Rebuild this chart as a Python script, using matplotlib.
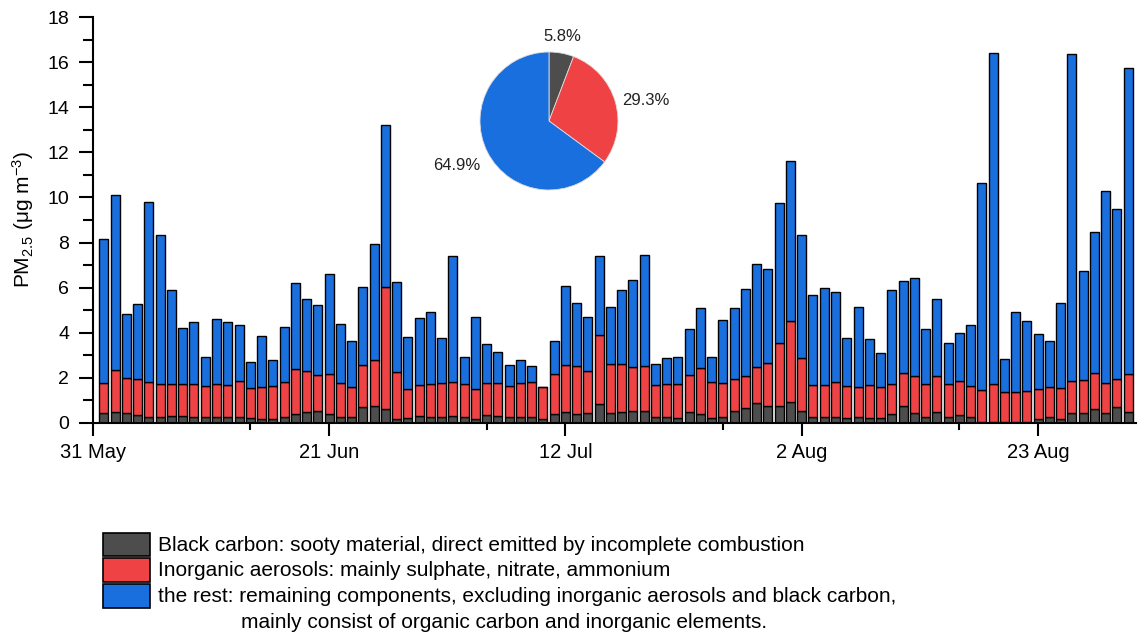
import matplotlib
matplotlib.use("Agg")
import matplotlib.pyplot as plt
import matplotlib.dates as mdates
from matplotlib.patches import Rectangle
from matplotlib.ticker import MultipleLocator
import numpy as np
import pandas as pd

plt.rcParams['font.family'] = ['Liberation Sans', 'DejaVu Sans']
plt.rcParams['mathtext.default'] = 'regular'

# daily PM2.5 composition, 1 Jun - 31 Aug (ug m-3)
days = pd.date_range('2018-06-01', '2018-08-31', freq='D')

black_carbon = [
    0.41, 0.46, 0.44, 0.34, 0.25, 0.27, 0.28, 0.28, 0.27, 0.24,
    0.25, 0.27, 0.24, 0.19, 0.18, 0.18, 0.27, 0.37, 0.46, 0.52,
    0.38, 0.27, 0.27, 0.68, 0.75, 0.59, 0.15, 0.22, 0.30, 0.27,
    0.25, 0.30, 0.27, 0.16, 0.34, 0.28, 0.24, 0.24, 0.24, 0.18,
    0.38, 0.49, 0.37, 0.44, 0.83, 0.44, 0.47, 0.52, 0.53, 0.25,
    0.25, 0.19, 0.47, 0.37, 0.22, 0.27, 0.53, 0.64, 0.86, 0.73,
    0.73, 0.90, 0.52, 0.24, 0.25, 0.27, 0.22, 0.24, 0.22, 0.19,
    0.38, 0.73, 0.43, 0.24, 0.49, 0.27, 0.34, 0.27, 0.04, 0.04,
    0.02, 0.02, 0.02, 0.16, 0.24, 0.16, 0.44, 0.41, 0.61, 0.41,
    0.68, 0.46]

inorganic = [
    1.37, 1.88, 1.53, 1.58, 1.56, 1.43, 1.45, 1.45, 1.46, 1.39,
    1.48, 1.40, 1.61, 1.36, 1.42, 1.43, 1.55, 2.03, 1.85, 1.61,
    1.80, 1.51, 1.33, 1.90, 2.03, 5.45, 2.11, 1.26, 1.39, 1.45,
    1.53, 1.51, 1.46, 1.35, 1.44, 1.50, 1.40, 1.51, 1.58, 1.39,
    1.78, 2.09, 2.16, 1.85, 3.06, 2.17, 2.14, 1.97, 2.00, 1.42,
    1.48, 1.54, 1.66, 2.04, 1.57, 1.49, 1.42, 1.43, 1.63, 1.90,
    2.81, 3.60, 2.35, 1.43, 1.42, 1.54, 1.39, 1.33, 1.44, 1.39,
    1.35, 1.46, 1.64, 1.46, 1.57, 1.43, 1.51, 1.36, 1.41, 1.66,
    1.34, 1.36, 1.37, 1.35, 1.33, 1.36, 1.40, 1.47, 1.58, 1.37,
    1.26, 1.72]

rest = [
    6.38, 7.77, 2.86, 3.35, 7.97, 6.63, 4.18, 2.47, 2.74, 1.29,
    2.86, 2.79, 2.49, 1.16, 2.25, 1.17, 2.43, 3.79, 3.20, 3.09,
    4.41, 2.60, 2.03, 3.43, 5.17, 7.16, 3.97, 2.31, 2.94, 3.18,
    1.96, 5.61, 1.17, 3.17, 1.71, 1.36, 0.94, 1.03, 0.68, 0.00,
    1.47, 3.49, 2.77, 2.42, 3.53, 2.51, 3.28, 3.85, 4.90, 0.94,
    1.16, 1.19, 2.03, 2.67, 1.14, 2.80, 3.14, 3.88, 4.57, 4.21,
    6.23, 7.12, 5.46, 4.01, 4.31, 4.01, 2.15, 3.55, 2.07, 1.53,
    4.15, 4.10, 4.35, 2.46, 3.43, 1.85, 2.13, 2.71, 9.21, 14.72,
    1.48, 3.52, 3.14, 2.43, 2.04, 3.81, 14.52, 4.84, 6.26, 8.49,
    7.55, 13.58]

# overall share of each component (%)
shares = [5.8, 29.3, 64.9]

labels = [
    'Black carbon: sooty material, direct emitted by incomplete combustion',
    'Inorganic aerosols: mainly sulphate, nitrate, ammonium',
    'the rest: remaining components, excluding inorganic aerosols and black carbon,',
]
extra_line = 'mainly consist of organic carbon and inorganic elements.'

major_days = ['2018-05-31', '2018-06-21', '2018-07-12', '2018-08-02', '2018-08-23']
minor_days = ['2018-06-14', '2018-07-05', '2018-07-26', '2018-08-16']

c_bc = '#4d4d4d'
c_ia = '#ef4244'
c_rest = '#1a6fdf'

W, H = 1138, 635
fig = plt.figure(figsize=(W / 100, H / 100), dpi=100)
ax = fig.add_axes([92.7 / W, 1 - 422.7 / H, (1136 - 92.7) / W, (422.7 - 17.3) / H])

bc = np.array(black_carbon)
ia = np.array(inorganic)
rs = np.array(rest)
x = mdates.date2num(days)

kw = dict(width=0.8, edgecolor='black', linewidth=1.0)
ax.bar(x, bc, color=c_bc, **kw)
ax.bar(x, ia, bottom=bc, color=c_ia, **kw)
ax.bar(x, rs, bottom=bc + ia, color=c_rest, **kw)

x0 = mdates.date2num(pd.Timestamp('2018-05-31'))
ax.set_xlim(x0, x0 + 92.7)
ax.set_ylim(0, 18)

ax.set_xticks(mdates.date2num(pd.to_datetime(major_days)))
ax.set_xticklabels([pd.Timestamp(d).strftime('%d %b').lstrip('0') for d in major_days])
ax.set_xticks(mdates.date2num(pd.to_datetime(minor_days)), minor=True)
ax.yaxis.set_major_locator(MultipleLocator(2))
ax.yaxis.set_minor_locator(MultipleLocator(1))

for s in ['top', 'right']:
    ax.spines[s].set_visible(False)
for s in ['left', 'bottom']:
    ax.spines[s].set_linewidth(1.5)

ax.tick_params(axis='x', which='major', length=9.5, width=1.5, labelsize=14.5, pad=5)
ax.tick_params(axis='x', which='minor', length=5, width=1.5)
ax.tick_params(axis='y', which='major', length=10, width=1.5, labelsize=14, pad=7)
ax.tick_params(axis='y', which='minor', length=7, width=1.5)
ax.set_ylabel('PM$_{2.5}$ (μg m$^{-3}$)', fontsize=15, labelpad=8)

# pie of the campaign-average composition
pax = fig.add_axes([480 / W, 1 - 190 / H, 138 / W, 138 / H])
wedges, _ = pax.pie(shares, colors=[c_bc, c_ia, c_rest], startangle=90,
                    counterclock=False, radius=1,
                    wedgeprops=dict(edgecolor='#dddddd', linewidth=0.6))
pax.set_xlim(-1, 1)
pax.set_ylim(-1, 1)
pax.set_aspect('equal')
label_pos = [(0.2, 1.22), (1.40, 0.30), (-1.33, -0.64)]
for (px, py), s in zip(label_pos, shares):
    pax.text(px, py, f'{s:.1f}%', ha='center', va='center', fontsize=12,
             color='#222222', clip_on=False)

# legend boxes and text below the axes
rows = [(533, 556, c_bc), (558, 582, c_ia), (584, 608, c_rest)]
baselines = [551, 576, 602]
for (top, bot, col), lab, yb in zip(rows, labels, baselines):
    fig.add_artist(Rectangle((103 / W, 1 - bot / H), 47 / W, (bot - top) / H,
                             facecolor=col, edgecolor='black', linewidth=1.2,
                             transform=fig.transFigure))
    fig.text(158 / W, 1 - yb / H, lab, fontsize=15, ha='left', va='baseline')
fig.text(241 / W, 1 - 628 / H, extra_line, fontsize=15, ha='left', va='baseline')

fig.savefig('out.png', dpi=100)
